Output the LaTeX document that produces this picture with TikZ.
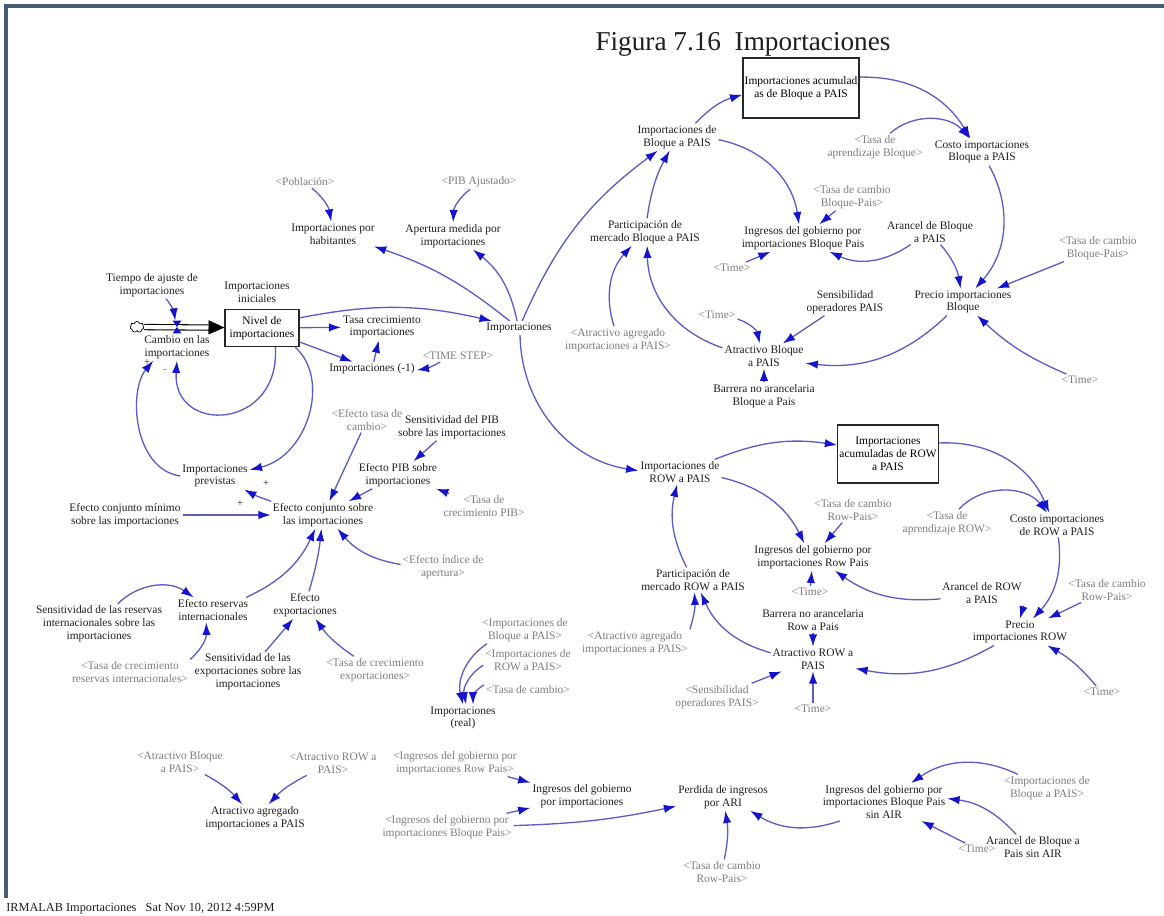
\documentclass[tikz,border=0pt]{standalone}
\usepackage{fontspec}
\setmainfont{Liberation Serif}
\usepackage{tikz}
\usetikzlibrary{arrows.meta,positioning,shapes.symbols}
\usepackage{xcolor}
\definecolor{LinkBlue}{RGB}{92,92,196}
\definecolor{HeadBlue}{RGB}{20,20,205}
\definecolor{ShadowGray}{RGB}{125,125,125}
\definecolor{FrameSlate}{RGB}{70,92,115}
\definecolor{TextDark}{RGB}{30,30,30}
\newcommand{\simfont}{\fontsize{6.5}{7.3}\selectfont}
\tikzset{
  simvar/.style={font=\simfont, text=TextDark, align=center, inner sep=1pt},
  shadowvar/.style={simvar, text=ShadowGray},
  stockbox/.style={draw=black!85, line width=0.7pt, font=\simfont, align=center,
    inner sep=1pt},
  arrow/.style={-{Latex[length=7pt,width=4.8pt,color=HeadBlue]},
    line width=0.75pt, LinkBlue},
  pipe/.style={draw=black, line width=0.6pt, double=white,
    double distance=2.4pt, shorten >=8pt},
  pipehead/.style={draw=white, line width=0.2pt,
    -{Triangle[length=9pt,width=8pt,color=black]}},
  polarity/.style={font=\fontsize{6}{6}\selectfont, text=TextDark, inner sep=0pt}
}

\begin{document}
\begin{tikzpicture}[x=0.02cm, y=-0.02cm]
  \useasboundingbox (0,0) rectangle (1164,916);
  \fill[white] (0,0) rectangle (1164,916);
  \draw[FrameSlate, line width=1.8pt] (6,898) -- (6,6) -- (1164,6);

  \node[font=\fontsize{15.5}{18}\selectfont, text=TextDark] (title) at (743,44) {Figura 7.16\ \ Importaciones};
  \node[anchor=west, font=\fontsize{7}{8}\selectfont, text=TextDark, inner sep=0pt] (footer) at (6,909) {IRMALAB Importaciones\ \ \ Sat Nov 10, 2012 4:59PM};

  % nivel de importaciones
  \node[stockbox, minimum width=1.48cm, minimum height=0.74cm] (nivel) at (262,328) {Nivel de\\importaciones};
  \node[cloud, draw=black, line width=0.4pt, cloud puffs=7, minimum width=0.28cm, minimum height=0.22cm, inner sep=0pt] (cloud) at (137,327) {};
  \node[inner sep=0pt, minimum width=0.16cm, minimum height=0.24cm] (valve) at (177,327) {};
  \node[simvar] (cambio) at (177,347) {Cambio en las\\importaciones};
  \node[simvar] (tiempo) at (152,285) {Tiempo de ajuste de\\importaciones};
  \node[simvar] (inic) at (257,292) {Importaciones\\iniciales};
  \node[shadowvar] (pob) at (305,182) {<Población>};
  \node[simvar] (iph) at (333,234) {Importaciones por\\habitantes};
  \node[shadowvar] (pib) at (479,182) {<PIB Ajustado>};
  \node[simvar] (apert) at (453,236) {Apertura medida por\\importaciones};
  \node[simvar] (tasacrec) at (382,327) {Tasa crecimiento\\importaciones};
  \node[simvar] (imp1) at (372,369) {Importaciones (-1)};
  \node[shadowvar] (timestep) at (458,356) {<TIME STEP>};
  \node[simvar] (imp) at (519,328) {Importaciones};
  \node[simvar] (previstas) at (215,476) {Importaciones\\previstas};
  \node[simvar] (minimo) at (125,515) {Efecto conjunto mínimo\\sobre las importaciones};
  \node[simvar] (conj) at (323,515) {Efecto conjunto sobre\\las importaciones};
  \node[shadowvar] (etc) at (367,420) {<Efecto tasa de\\cambio>};
  \node[simvar] (senspib) at (452,427) {Sensitividad del PIB\\sobre las importaciones};
  \node[simvar] (efpib) at (398,475) {Efecto PIB sobre\\importaciones};
  \node[shadowvar] (tasapib) at (484,506) {<Tasa de\\crecimiento PIB>};
  \node[shadowvar] (indice) at (443,567) {<Efecto índice de\\apertura>};
  \node[simvar] (sensres) at (99,624) {Sensitividad de las reservas\\internacionales sobre las\\importaciones};
  \node[simvar] (efres) at (213,610) {Efecto reservas\\internacionales};
  \node[simvar] (efexp) at (305,605) {Efecto\\exportaciones};
  \node[shadowvar] (tasares) at (130,672) {<Tasa de crecimiento\\reservas internacionales>};
  \node[simvar] (sensexp) at (248,672) {Sensitividad de las\\exportaciones sobre las\\importaciones};
  \node[shadowvar] (tasaexp) at (375,670) {<Tasa de crecimiento\\exportaciones>};
  \node[simvar] (real) at (463,718) {Importaciones\\(real)};
  \node[shadowvar] (simpb) at (525,630) {<Importaciones de\\Bloque a PAIS>};
  \node[shadowvar] (simpr) at (528,660) {<Importaciones de\\ROW a PAIS>};
  \node[shadowvar] (stc) at (528,690) {<Tasa de cambio>};
  \node[polarity] (s1) at (147,363) {+};
  \node[polarity] (s2) at (266,484) {+};
  \node[polarity] (s3) at (240,504) {+};
  \node[polarity, text=orange!70!black] (s4) at (165,371) {-};

  % abajo
  \node[shadowvar] (satb) at (180,762) {<Atractivo Bloque\\a PAIS>};
  \node[shadowvar] (satr) at (333,763) {<Atractivo ROW a\\PAIS>};
  \node[simvar] (agreg) at (255,818) {Atractivo agregado\\importaciones a PAIS};
  \node[shadowvar] (singr) at (455,763) {<Ingresos del gobierno por\\importaciones Row Pais>};
  \node[shadowvar] (singb) at (447,827) {<Ingresos del gobierno por\\importaciones Bloque Pais>};
  \node[simvar] (ingtot) at (582,796) {Ingresos del gobierno\\por importaciones};
  \node[simvar] (perdida) at (723,797) {Perdida de ingresos\\por ARI};
  \node[shadowvar] (stcrp) at (722,872) {<Tasa de cambio\\Row-Pais>};
  \node[simvar] (sinair) at (884,802) {Ingresos del gobierno por\\importaciones Bloque Pais\\sin AIR};
  \node[shadowvar] (simpb2) at (1047,788) {<Importaciones de\\Bloque a PAIS>};
  \node[shadowvar] (time5) at (977,849) {<Time>};
  \node[simvar] (aransin) at (1033,847) {Arancel de Bloque a\\Pais sin AIR};

  % Bloque
  \node[stockbox, minimum width=2.3cm, minimum height=1.2cm] (acumb) at (801,88) {Importaciones acumulad\\as de Bloque a PAIS};
  \node[simvar] (impb) at (677,137) {Importaciones de\\Bloque a PAIS};
  \node[simvar] (partb) at (645,232) {Participación de\\mercado Bloque a PAIS};
  \node[shadowvar] (sagb) at (618,340) {<Atractivo agregado\\importaciones a PAIS>};
  \node[simvar] (ingb) at (803,238) {Ingresos del gobierno por\\importaciones Bloque Pais};
  \node[shadowvar] (stcb) at (852,197) {<Tasa de cambio\\Bloque-Pais>};
  \node[shadowvar] (time1) at (732,268) {<Time>};
  \node[simvar] (aranb) at (930,232) {Arancel de Bloque\\a PAIS};
  \node[shadowvar] (saprb) at (875,147) {<Tasa de\\aprendizaje Bloque>};
  \node[simvar] (costob) at (982,152) {Costo importaciones\\Bloque a PAIS};
  \node[shadowvar] (stcb2) at (1098,248) {<Tasa de cambio\\Bloque-Pais>};
  \node[simvar] (preciob) at (963,302) {Precio importaciones\\Bloque};
  \node[simvar] (sensop) at (845,302) {Sensibilidad\\operadores PAIS};
  \node[shadowvar] (time2) at (717,315) {<Time>};
  \node[simvar] (atrb) at (764,356) {Atractivo Bloque\\a PAIS};
  \node[simvar] (barrb) at (764,396) {Barrera no arancelaria\\Bloque a Pais};
  \node[shadowvar] (time3) at (1080,380) {<Time>};

  % ROW
  \node[stockbox, minimum width=1.98cm, minimum height=1.16cm] (acumr) at (888,454) {Importaciones\\acumuladas de ROW\\a PAIS};
  \node[simvar] (impr) at (680,472) {Importaciones de\\ROW a PAIS};
  \node[simvar] (partr) at (693,580) {Participación de\\mercado ROW a PAIS};
  \node[shadowvar] (sagr) at (635,643) {<Atractivo agregado\\importaciones a PAIS>};
  \node[simvar] (ingr) at (813,557) {Ingresos del gobierno por\\importaciones Row Pais};
  \node[shadowvar] (stcr) at (853,510) {<Tasa de cambio\\Row-Pais>};
  \node[shadowvar] (time4) at (810,592) {<Time>};
  \node[simvar] (barrr) at (813,620) {Barrera no arancelaria\\Row a Pais};
  \node[simvar] (atrr) at (813,659) {Atractivo ROW a\\PAIS};
  \node[shadowvar] (ssensop) at (717,697) {<Sensibilidad\\operadores PAIS>};
  \node[shadowvar] (time6) at (813,709) {<Time>};
  \node[simvar] (aranr) at (982,593) {Arancel de ROW\\a PAIS};
  \node[shadowvar] (saprr) at (947,523) {<Tasa de\\aprendizaje ROW>};
  \node[simvar] (costor) at (1057,525) {Costo importaciones\\de ROW a PAIS};
  \node[shadowvar] (stcr2) at (1107,590) {<Tasa de cambio\\Row-Pais>};
  \node[simvar] (precior) at (1020,632) {Precio\\importaciones ROW};
  \node[shadowvar] (time7) at (1102,692) {<Time>};

  % flujo
  \draw[pipe] (cloud) -- (nivel);
  \draw[pipehead] (valve) -- (nivel);
  \fill[HeadBlue] (valve.north west) -- (valve.north east) -- (valve.south west) -- (valve.south east) -- cycle;

  % conectores izquierda
  \draw[arrow] (tiempo) to[bend left=15] (valve);
  \draw[arrow] (pob) to[bend left=20] (iph);
  \draw[arrow] (pib) to[bend right=25] (apert);
  \draw[arrow] (imp) to[bend right=10] (iph);
  \draw[arrow] (imp) to[bend right=20] (apert);
  \draw[arrow] (nivel) -- (tasacrec);
  \draw[arrow] (nivel.15) to[bend left=12] (imp);
  \draw[arrow] (nivel) -- (imp1);
  \draw[arrow] (imp1) -- (tasacrec);
  \draw[arrow] (timestep) to[bend left=10] (imp1);
  \draw[arrow] (nivel.-55) .. controls +(5,84) and +(-5,74) .. (cambio.south);
  \draw[arrow] (nivel.-30) .. controls +(36,32) and +(58,-14) .. (previstas.10);
  \draw[arrow] (previstas.west) .. controls +(-47,-7) and +(-25,30) .. (cambio.-150);
  \draw[arrow] (conj) to[bend left=5] (previstas);
  \draw[arrow] (minimo) -- (conj);
  \draw[arrow] (etc) -- (conj);
  \draw[arrow] (senspib) -- (efpib);
  \draw[arrow] (efpib) -- (conj);
  \draw[arrow] (tasapib) -- (efpib);
  \draw[arrow] (indice) to[bend left=20] (conj);
  \draw[arrow] (efres) to[bend right=20] (conj);
  \draw[arrow] (efexp) to[bend right=5] (conj);
  \draw[arrow] (sensres) to[bend left=40] (efres);
  \draw[arrow] (tasares) to[bend right=25] (efres);
  \draw[arrow] (sensexp) -- (efexp);
  \draw[arrow] (tasaexp) to[bend left=10] (efexp);
  \draw[arrow] (simpb) to[bend right=35] (real);
  \draw[arrow] (simpr) to[bend right=35] (real);
  \draw[arrow] (stc) to[bend right=30] (real);

  % conectores abajo
  \draw[arrow] (satb) to[bend left=10] (agreg);
  \draw[arrow] (satr) to[bend right=10] (agreg);
  \draw[arrow] (singr) -- (ingtot);
  \draw[arrow] (singb) -- (ingtot);
  \draw[arrow] (singb) to[bend right=5] (perdida);
  \draw[arrow] (stcrp) to[bend right=10] (perdida);
  \draw[arrow] (sinair) to[bend left=25] (perdida);
  \draw[arrow] (simpb2) to[bend right=30] (sinair);
  \draw[arrow] (aransin) to[bend right=20] (sinair);
  \draw[arrow] (time5) -- (sinair);

  % conectores Bloque
  \draw[arrow] (imp) to[bend left=15] (impb);
  \draw[arrow] (impb) to[bend left=15] (acumb);
  \draw[arrow] (impb) to[bend left=35] (ingb);
  \draw[arrow] (partb) to[bend left=10] (impb);
  \draw[arrow] (sagb) to[bend left=30] (partb);
  \draw[arrow] (atrb) to[bend left=35] (partb);
  \draw[arrow] (stcb) -- (ingb);
  \draw[arrow] (time1) -- (ingb);
  \draw[arrow] (aranb) to[bend left=30] (ingb);
  \draw[arrow] (aranb) to[bend left=15] (preciob);
  \draw[arrow] (acumb) to[bend left=30] (costob);
  \draw[arrow] (saprb) to[bend left=45] (costob);
  \draw[arrow] (costob) to[bend left=35] (preciob);
  \draw[arrow] (stcb2) -- (preciob);
  \draw[arrow] (preciob) to[bend left=25] (atrb);
  \draw[arrow] (time3) to[bend left=10] (preciob);
  \draw[arrow] (sensop) -- (atrb);
  \draw[arrow] (time2) to[bend left=30] (atrb);
  \draw[arrow] (barrb) -- (atrb);

  % conectores ROW
  \draw[arrow] (imp) to[bend right=40] (impr);
  \draw[arrow] (impr) to[bend left=15] (acumr);
  \draw[arrow] (impr) to[bend left=25] (ingr);
  \draw[arrow] (partr) to[bend left=20] (impr);
  \draw[arrow] (sagr.north east) to[bend right=10] (partr);
  \draw[arrow] (atrr) to[bend left=25] (partr);
  \draw[arrow] (stcr) -- (ingr);
  \draw[arrow] (time4) -- (ingr);
  \draw[arrow] (aranr) to[bend left=20] (ingr);
  \draw[arrow] (aranr.south east) -- (precior.north);
  \draw[arrow] (acumr) to[bend left=35] (costor);
  \draw[arrow] (saprr) to[bend left=50] (costor);
  \draw[arrow] (costor) to[bend left=25] (precior);
  \draw[arrow] (stcr2) -- (precior);
  \draw[arrow] (precior) to[bend left=20] (atrr);
  \draw[arrow] (time7) to[bend right=10] (precior);
  \draw[arrow] (barrr) -- (atrr);
  \draw[arrow] (ssensop) -- (atrr);
  \draw[arrow] (time6) -- (atrr);
\end{tikzpicture}
\end{document}
